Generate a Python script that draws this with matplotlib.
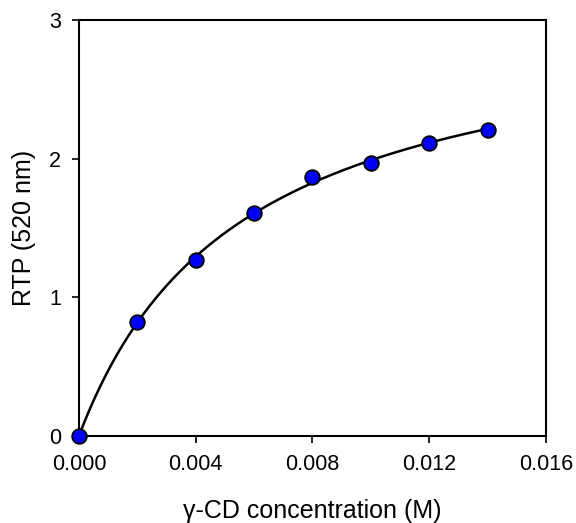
import numpy as np
import matplotlib
matplotlib.use("Agg")
import matplotlib.pyplot as plt

# datos
conc = [0.000, 0.002, 0.004, 0.006, 0.008, 0.010, 0.012, 0.014]
rtp = [0.00, 0.82, 1.27, 1.61, 1.87, 1.97, 2.11, 2.21]

x = np.array(conc)
y = np.array(rtp)

# ajuste hiperbólico y = a*x/(b+x), b por barrido, a por mínimos cuadrados
best = None
for b in np.linspace(0.001, 0.02, 2000):
    f = x / (b + x)
    a = np.dot(f, y) / np.dot(f, f)
    err = np.sum((a * f - y) ** 2)
    if best is None or err < best[0]:
        best = (err, a, b)
_, a_fit, b_fit = best

xf = np.linspace(0, x.max(), 300)
yf = a_fit * xf / (b_fit + xf)

plt.rcParams['font.family'] = ['Liberation Sans', 'DejaVu Sans']

fig = plt.figure(figsize=(5.76, 5.23), dpi=100)
ax = fig.add_axes([0.137, 0.1663, 0.811, 0.7955])

ax.plot(xf, yf, color="black", lw=1.8, zorder=2)
ax.plot(x, y, "o", ms=10.5, mfc="#0000ff", mec="black", mew=1.3,
        zorder=3, clip_on=False)

ax.set_xlim(0, 0.016)
ax.set_ylim(0, 3)
ax.set_xticks([0, 0.004, 0.008, 0.012, 0.016])
ax.set_xticklabels(["0.000", "0.004", "0.008", "0.012", "0.016"])
ax.set_yticks([0, 1, 2, 3])
ax.tick_params(direction="out", length=5, width=1.2, labelsize=15.5)
ax.tick_params(axis="x", pad=8)
ax.tick_params(axis="y", pad=8)
for s in ax.spines.values():
    s.set_linewidth(1.5)

ax.set_xlabel("γ-CD concentration (M)", fontsize=18, labelpad=17)
ax.set_ylabel("RTP (520 nm)", fontsize=18, labelpad=9)

fig.savefig("out.png", dpi=100)
